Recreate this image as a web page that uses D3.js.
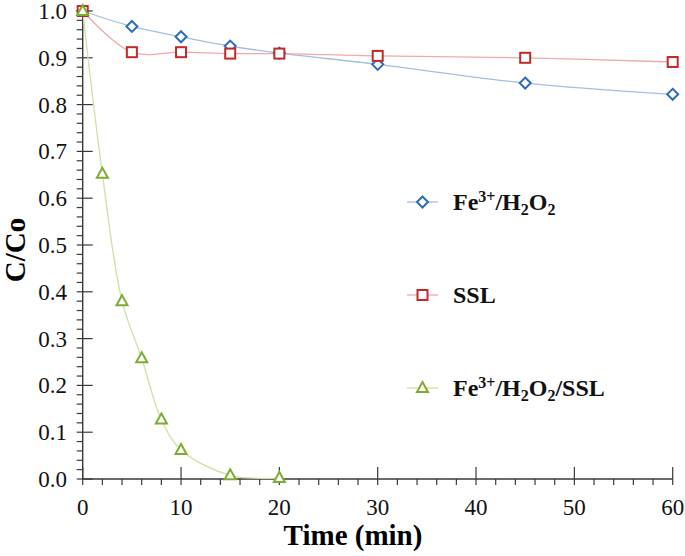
<!DOCTYPE html>
<html><head><meta charset="utf-8">
<script src="https://cdn.jsdelivr.net/npm/d3@7"></script>
<style>body{margin:0;background:#fff}svg{display:block}
text{font-family:"Liberation Serif","Tinos","DejaVu Serif","Noto Serif",serif}</style>
</head><body>
<svg id="c" width="685" height="556"></svg>
<script>
const times = [0, 5, 10, 15, 20, 30, 45, 60];
const feH2O2 = [1.0, 0.967, 0.945, 0.925, 0.91, 0.886, 0.846, 0.822];
const ssl = [1.0, 0.912, 0.912, 0.909, 0.909, 0.904, 0.9, 0.891];
const timesMix = [0, 2, 4, 6, 8, 10, 15, 20];
const feH2O2SSL = [1.0, 0.652, 0.38, 0.258, 0.127, 0.062, 0.008, 0.002];
const xTicks = [0, 10, 20, 30, 40, 50, 60];
const yTicks = [0, 0.1, 0.2, 0.3, 0.4, 0.5, 0.6, 0.7, 0.8, 0.9, 1.0];

const svg = d3.select("#c");
const x = d3.scaleLinear().domain([0, 60]).range([82.7, 672.7]);
const y = d3.scaleLinear().domain([0, 1]).range([479, 11]);
const axisCol = "#3a3a3a";

const gx = svg.append("g");
d3.range(0, 61, 2).forEach(v => {
  const major = v % 10 === 0;
  gx.append("line").attr("x1", x(v)).attr("x2", x(v))
    .attr("y1", major ? y(0) - 12 : y(0)).attr("y2", y(0) + 6)
    .attr("stroke", axisCol).attr("stroke-width", 1.2);
});
d3.range(0, 51).forEach(i => {
  const v = i / 50;
  const major = i % 5 === 0;
  gx.append("line").attr("y1", y(v)).attr("y2", y(v))
    .attr("x1", x(0) - 6).attr("x2", major ? x(0) + 10 : x(0))
    .attr("stroke", axisCol).attr("stroke-width", 1.2);
});
gx.append("line").attr("x1", x(0)).attr("x2", x(60)).attr("y1", y(0)).attr("y2", y(0))
  .attr("stroke", axisCol).attr("stroke-width", 1.4);
gx.append("line").attr("x1", x(0)).attr("x2", x(0)).attr("y1", y(0)).attr("y2", y(1))
  .attr("stroke", axisCol).attr("stroke-width", 1.4);

xTicks.forEach(v => {
  svg.append("text").attr("x", x(v)).attr("y", 515).attr("text-anchor", "middle")
    .attr("font-size", 23).attr("fill", "#111").text(v);
});
yTicks.forEach(v => {
  svg.append("text").attr("x", 67).attr("y", y(v) + 8).attr("text-anchor", "end")
    .attr("font-size", 23).attr("fill", "#111").text(v.toFixed(1));
});

svg.append("text").attr("x", 353).attr("y", 545).attr("text-anchor", "middle")
  .attr("font-size", 29).attr("font-weight", "bold").text("Time (min)");
svg.append("text").attr("transform", "translate(25,250) rotate(-90)").attr("text-anchor", "middle")
  .attr("font-size", 29).attr("font-weight", "bold").text("C/Co");

const series = [
  {xs: times, ys: feH2O2, line: "#a3bfe3", mark: "#2d6db8", shape: "diamond"},
  {xs: times, ys: ssl, line: "#eeaaaa", mark: "#c22a2a", shape: "square"},
  {xs: timesMix, ys: feH2O2SSL, line: "#cfe0a8", mark: "#7dad30", shape: "triangle"}
];

function marker(g, shape, cx, cy, col) {
  if (shape === "diamond") {
    g.append("path").attr("d", `M${cx},${cy-5.5}L${cx+5.5},${cy}L${cx},${cy+5.5}L${cx-5.5},${cy}Z`)
      .attr("fill", "#fff").attr("stroke", col).attr("stroke-width", 2);
  } else if (shape === "square") {
    g.append("rect").attr("x", cx - 5).attr("y", cy - 5).attr("width", 10).attr("height", 10)
      .attr("fill", "#fff").attr("stroke", col).attr("stroke-width", 2);
  } else {
    g.append("path").attr("d", `M${cx},${cy-6}L${cx+5.5},${cy+4}L${cx-5.5},${cy+4}Z`)
      .attr("fill", "#fff").attr("stroke", col).attr("stroke-width", 2);
  }
}

const lineGen = d3.line().curve(d3.curveCatmullRom.alpha(0.5));
series.forEach(s => {
  const pts = s.xs.map((t, i) => [x(t), y(s.ys[i])]);
  svg.append("path").attr("d", lineGen(pts)).attr("fill", "none")
    .attr("stroke", s.line).attr("stroke-width", 1.3);
});
series.forEach(s => {
  const g = svg.append("g");
  s.xs.forEach((t, i) => marker(g, s.shape, x(t), y(s.ys[i]), s.mark));
});

const legend = [
  {parts: [["Fe",""],["3+","sup"],["/H",""],["2","sub"],["O",""],["2","sub"]], y: 202},
  {parts: [["SSL",""]], y: 295},
  {parts: [["Fe",""],["3+","sup"],["/H",""],["2","sub"],["O",""],["2","sub"],["/SSL",""]], y: 388}
];
legend.forEach((L, i) => {
  const s = series[i];
  svg.append("line").attr("x1", 407).attr("x2", 438).attr("y1", L.y).attr("y2", L.y)
    .attr("stroke", s.line).attr("stroke-width", 1.3);
  marker(svg, s.shape, 422.5, L.y, s.mark);
  const t = svg.append("text").attr("x", 453).attr("y", L.y + 8)
    .attr("font-size", 24).attr("font-weight", "bold").attr("fill", "#111");
  let off = 0;
  L.parts.forEach(([txt, kind]) => {
    const ts = t.append("tspan").text(txt);
    let k = 0;
    if (kind === "sup") { ts.attr("font-size", 16); k = -8; }
    else if (kind === "sub") { ts.attr("font-size", 16); k = 5; }
    ts.attr("dy", k - off);
    off = k;
  });
});
</script>
</body></html>
